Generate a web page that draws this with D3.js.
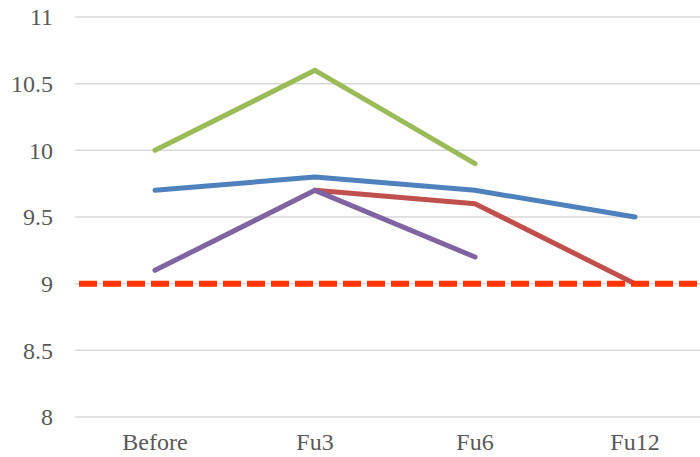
<!DOCTYPE html>
<html>
<head>
<meta charset="utf-8">
<script src="https://cdn.jsdelivr.net/npm/d3@7"></script>
<style>
  html, body { margin: 0; padding: 0; background: #fff; }
  svg { display: block; }
</style>
</head>
<body>
<svg id="chart" width="700" height="457"></svg>
<script>
// Time points and tick values
const categories = ["Before", "Fu3", "Fu6", "Fu12"];
const yTicks = [8, 8.5, 9, 9.5, 10, 10.5, 11];

// Series values (null = no measurement at that time point)
const blueValues   = [9.7, 9.8, 9.7, 9.5];
const redValues    = [null, 9.7, 9.6, 9.0];
const greenValues  = [10.0, 10.6, 9.9, null];
const purpleValues = [9.1, 9.7, 9.2, null];
const thresholdValue = 9;

const series = [
  { values: blueValues,   color: "#4F81BD" },
  { values: redValues,    color: "#C0504D" },
  { values: greenValues,  color: "#9BBB59" },
  { values: purpleValues, color: "#8064A2" }
];

const svg = d3.select("#chart");
const plotLeft = 75, plotRight = 715, plotTop = 17, plotBottom = 417;

const x = d3.scaleBand().domain(categories).range([plotLeft, plotRight]);
const y = d3.scaleLinear().domain([8, 11]).range([plotBottom, plotTop]);

const labelFont = "Liberation Serif, Times New Roman, serif";

// Horizontal gridlines
svg.append("g").selectAll("line")
  .data(yTicks).join("line")
  .attr("x1", plotLeft).attr("x2", plotRight)
  .attr("y1", d => y(d)).attr("y2", d => y(d))
  .attr("stroke", "#D9D9D9").attr("stroke-width", 1.5);

// Y axis labels
const yAxis = d3.axisLeft(y).tickValues(yTicks).tickSize(0).tickPadding(0)
  .tickFormat(d3.format("~g"));
const gy = svg.append("g").attr("transform", `translate(${plotLeft - 22},0)`).call(yAxis);
gy.attr("font-family", labelFont).attr("font-size", 24);
gy.select(".domain").remove();
gy.selectAll("text").attr("fill", "#595959");

// X axis labels
const xAxis = d3.axisBottom(x).tickSize(0).tickPadding(0);
const gx = svg.append("g").attr("transform", `translate(0,${plotBottom + 16})`).call(xAxis);
gx.attr("font-family", labelFont).attr("font-size", 24);
gx.select(".domain").remove();
gx.selectAll("text").attr("fill", "#595959");

// Series lines
const cx = c => x(c) + x.bandwidth() / 2;
const line = d3.line()
  .defined(d => d.v !== null)
  .x(d => cx(d.c))
  .y(d => y(d.v));

svg.append("g").selectAll("path")
  .data(series).join("path")
  .attr("d", s => line(categories.map((c, i) => ({ c, v: s.values[i] }))))
  .attr("fill", "none")
  .attr("stroke", s => s.color)
  .attr("stroke-width", 5)
  .attr("stroke-linecap", "round")
  .attr("stroke-linejoin", "round");

// Dashed reference line
svg.append("line")
  .attr("x1", plotLeft + 4).attr("x2", 700)
  .attr("y1", y(thresholdValue)).attr("y2", y(thresholdValue))
  .attr("stroke", "#FF3300")
  .attr("stroke-width", 6)
  .attr("stroke-dasharray", "18 6");
</script>
</body>
</html>
